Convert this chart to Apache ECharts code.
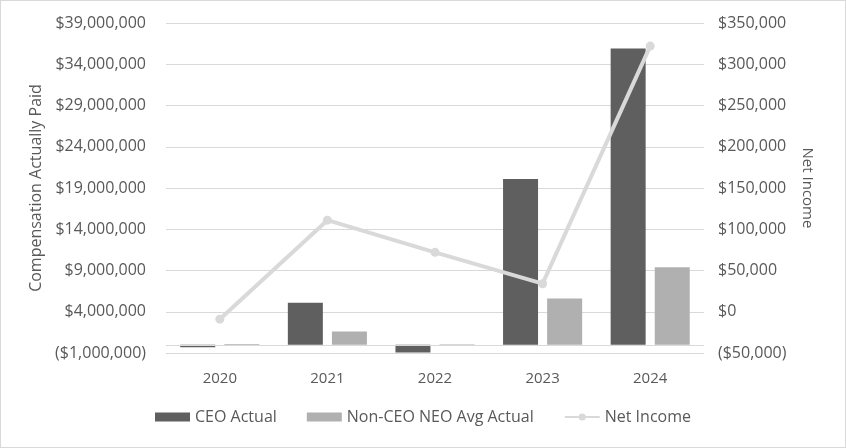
<!DOCTYPE html>
<html><head><meta charset="utf-8">
<script src="https://cdn.jsdelivr.net/npm/echarts@6/dist/echarts.min.js"></script>
<style>html,body{margin:0;padding:0;background:#fff}#c{width:846px;height:448px;box-sizing:border-box;border:1px solid #d9d9d9;}</style>
</head><body><div id="c"></div>
<script>
var years = ['2020','2021','2022','2023','2024'];
var ceoActual = [-300000, 5100000, -950000, 20100000, 35900000];
var nonCeoAvg = [100000, 1600000, 50000, 5600000, 9400000];
var netIncome = [-9000, 111000, 72000, 34000, 322000];

function money(v){
  var s = '$' + Math.abs(v).toLocaleString('en-US');
  return v < 0 ? '(' + s + ')' : s;
}
var font = 'Open Sans';
var txt = '#595959';
var chart = echarts.init(document.getElementById('c'));
chart.setOption({
  animation:false,
  textStyle:{fontFamily:font},
  grid:{left:165,right:141,top:22,bottom:94},
  legend:{
    bottom:17, left:'center', itemWidth:35, itemHeight:9, itemGap:30,
    textStyle:{color:txt,fontSize:16,fontFamily:font},
    data:[{name:'CEO Actual',icon:'rect'},{name:'Non-CEO NEO Avg Actual',icon:'rect'},{name:'Net Income'}]
  },
  xAxis:{
    type:'category', data:years,
    axisLine:{show:false}, axisTick:{show:false},
    axisLabel:{color:txt,fontSize:15,margin:18}
  },
  yAxis:[{
    type:'value', min:-1000000, max:39000000, interval:5000000,
    name:'Compensation Actually Paid', nameLocation:'middle', nameGap:122, nameRotate:90,
    nameTextStyle:{color:txt,fontSize:16},
    axisLabel:{color:txt,fontSize:16,margin:20,formatter:money},
    splitLine:{lineStyle:{color:'#d9d9d9'}}
  },{
    type:'value', min:-50000, max:350000, interval:50000,
    name:'Net Income', nameLocation:'middle', nameGap:96, nameRotate:-90,
    nameTextStyle:{color:txt,fontSize:15},
    axisLabel:{color:txt,fontSize:16,margin:14,formatter:money},
    splitLine:{show:false}
  }],
  series:[{
    name:'CEO Actual', type:'bar', data:ceoActual, barWidth:35, barGap:'26%',
    itemStyle:{color:'#5f5f5f'},
    markLine:{silent:true,symbol:'none',label:{show:false},lineStyle:{color:'#d9d9d9',type:'solid',width:1},data:[{yAxis:0}]}
  },{
    name:'Non-CEO NEO Avg Actual', type:'bar', data:nonCeoAvg, barWidth:35,
    itemStyle:{color:'#b0b0b0'}
  },{
    name:'Net Income', type:'line', yAxisIndex:1, data:netIncome,
    symbol:'circle', symbolSize:9,
    lineStyle:{color:'#d9d9d9',width:4}, itemStyle:{color:'#d9d9d9'}
  }]
});
</script></body></html>
